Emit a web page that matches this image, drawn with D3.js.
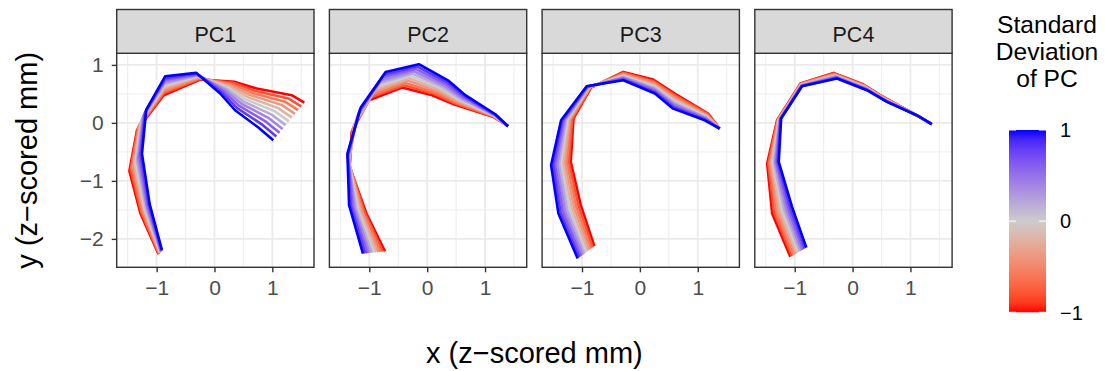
<!DOCTYPE html>
<html>
<head>
<meta charset="utf-8">
<script src="https://cdn.jsdelivr.net/npm/d3@7"></script>
<style>
body { margin: 0; background: #fff; }
text { font-family: "Liberation Sans", Arial, Helvetica, sans-serif; }
</style>
</head>
<body>
<div id="chart"></div>
<script>
var panels = ["PC1", "PC2", "PC3", "PC4"];
var sdLevels = [-1, -0.8, -0.6, -0.4, -0.2, 0, 0.2, 0.4, 0.6, 0.8, 1];
var xTicks = [-1, 0, 1], yTicks = [-2, -1, 0, 1];
var xMinor = [-1.5, -0.5, 0.5, 1.5], yMinor = [-1.5, -0.5, 0.5];
var legendTicks = [-1, 0, 1];

// shape at sd = 0 (z-scored mm), one per panel
var pc1MeanX = [-0.937, -1.20, -1.362, -1.259, -0.865, -0.282, 0.227, 0.543, 1.046, 1.285];
var pc1MeanY = [-2.23, -1.48, -0.679, 0.052, 0.641, 0.805, 0.607, 0.405, 0.199, 0.026];
var pc2MeanX = [-0.92, -1.20, -1.359, -1.227, -0.862, -0.288, 0.23, 0.56, 1.163, 1.397];
var pc2MeanY = [-2.233, -1.49, -0.644, 0.055, 0.635, 0.81, 0.60, 0.40, 0.126, -0.057];
var pc3MeanX = [-0.931, -1.215, -1.365, -1.255, -0.882, -0.287, 0.245, 0.589, 1.15, 1.379];
var pc3MeanY = [-2.233, -1.49, -0.70, 0.06, 0.62, 0.807, 0.627, 0.376, 0.103, -0.098];
var pc4MeanX = [-0.937, -1.218, -1.376, -1.27, -0.888, -0.299, 0.218, 0.535, 1.123, 1.368];
var pc4MeanY = [-2.23, -1.505, -0.686, 0.06, 0.655, 0.813, 0.612, 0.42, 0.124, -0.023];

// shift of each landmark for +1 standard deviation of the PC
var pc1LoadX = [0.029, 0.08, 0.109, 0.08, 0.014, -0.035, -0.129, -0.187, -0.287, -0.268];
var pc1LoadY = [0.035, 0.08, 0.15, 0.178, 0.164, 0.058, -0.10, -0.187, -0.279, -0.325];
var pc2LoadX = [-0.19, -0.15, -0.02, 0.078, 0.144, 0.144, 0.144, 0.10, 0.015, 0];
var pc2LoadY = [-0.02, 0.072, 0.115, 0.21, 0.244, 0.201, 0.124, 0.078, 0.023, 0];
var pc3LoadX = [-0.144, -0.193, -0.17, -0.107, -0.038, 0, 0.015, -0.014, -0.029, 0];
var pc3LoadY = [-0.107, -0.072, -0.029, -0.015, 0.012, -0.072, -0.12, -0.13, -0.058, 0];
var pc4LoadX = [0.138, 0.172, 0.10, 0.035, 0.014, 0.029, 0.029, 0.058, -0.015, 0];
var pc4LoadY = [0.08, 0.058, 0.014, 0.015, -0.023, -0.049, -0.049, -0.058, 0.008, 0];

var meanX = [pc1MeanX, pc2MeanX, pc3MeanX, pc4MeanX];
var meanY = [pc1MeanY, pc2MeanY, pc3MeanY, pc4MeanY];
var loadX = [pc1LoadX, pc2LoadX, pc3LoadX, pc4LoadX];
var loadY = [pc1LoadY, pc2LoadY, pc3LoadY, pc4LoadY];

var W = 1105, H = 371;
var panelLeft = 116.7, panelTop = 53.3, stripTop = 9.5;
var pw = 197.3, ph = 214, step = 212.7;

var svg = d3.select("#chart").append("svg")
    .attr("width", W).attr("height", H);

var x = d3.scaleLinear().domain([-1.69, 1.72]).range([0, pw]);
var y = d3.scaleLinear().domain([-2.49, 1.2]).range([ph, 0]);
var fmt = d3.format("d");

var color = d3.scaleLinear()
    .domain([-1, 0, 1])
    .range(["#FF0000", "#CCCCCC", "#0000FF"])
    .interpolate(d3.interpolateLab);

var line = d3.line()
    .x(function (d) { return x(d[0]); })
    .y(function (d) { return y(d[1]); });

panels.forEach(function (name, p) {
    var g = svg.append("g")
        .attr("transform", "translate(" + (panelLeft + p * step) + "," + panelTop + ")");

    // grid
    g.selectAll(".minx").data(xMinor).enter().append("line")
        .attr("x1", x).attr("x2", x).attr("y1", 0).attr("y2", ph)
        .attr("stroke", "#EBEBEB").attr("stroke-width", 0.9);
    g.selectAll(".miny").data(yMinor).enter().append("line")
        .attr("y1", y).attr("y2", y).attr("x1", 0).attr("x2", pw)
        .attr("stroke", "#EBEBEB").attr("stroke-width", 0.9);
    g.selectAll(".majx").data(xTicks).enter().append("line")
        .attr("x1", x).attr("x2", x).attr("y1", 0).attr("y2", ph)
        .attr("stroke", "#EBEBEB").attr("stroke-width", 1.8);
    g.selectAll(".majy").data(yTicks).enter().append("line")
        .attr("y1", y).attr("y2", y).attr("x1", 0).attr("x2", pw)
        .attr("stroke", "#EBEBEB").attr("stroke-width", 1.8);

    // shapes, one per sd level, red first so blue sits on top
    var curves = sdLevels.map(function (s) {
        return {
            sd: s,
            pts: meanX[p].map(function (mx, i) {
                return [mx + s * loadX[p][i], meanY[p][i] + s * loadY[p][i]];
            })
        };
    });
    g.selectAll(".curve").data(curves).enter().append("path")
        .attr("d", function (d) { return line(d.pts); })
        .attr("fill", "none")
        .attr("stroke", function (d) { return color(d.sd); })
        .attr("stroke-width", 2.6)
        .attr("stroke-linejoin", "round");

    // border
    g.append("rect")
        .attr("width", pw).attr("height", ph)
        .attr("fill", "none").attr("stroke", "#333333").attr("stroke-width", 1.4);

    // strip
    g.append("rect")
        .attr("y", stripTop - panelTop).attr("width", pw).attr("height", panelTop - stripTop)
        .attr("fill", "#D9D9D9").attr("stroke", "#333333").attr("stroke-width", 1.4);
    g.append("text")
        .attr("x", pw / 2).attr("y", 41.5 - panelTop)
        .attr("text-anchor", "middle")
        .attr("font-size", 21.5).attr("fill", "#1A1A1A")
        .text(name);

    // x axis
    var xa = g.append("g")
        .attr("transform", "translate(0," + ph + ")")
        .call(d3.axisBottom(x).tickValues(xTicks).tickFormat(fmt).tickSize(5).tickPadding(8));
    xa.select(".domain").remove();
    xa.selectAll("line").attr("stroke", "#333333").attr("stroke-width", 1.4);
    xa.selectAll("text").attr("font-size", 21).attr("fill", "#4D4D4D")
        .attr("font-family", "Liberation Sans, Arial, sans-serif");

    if (p === 0) {
        var ya = g.append("g")
            .call(d3.axisLeft(y).tickValues(yTicks).tickFormat(fmt).tickSize(5).tickPadding(8));
        ya.select(".domain").remove();
        ya.selectAll("line").attr("stroke", "#333333").attr("stroke-width", 1.4);
        ya.selectAll("text").attr("font-size", 21).attr("fill", "#4D4D4D")
            .attr("font-family", "Liberation Sans, Arial, sans-serif");
    }
});

// axis titles
svg.append("text")
    .attr("x", panelLeft + (3 * step + pw) / 2).attr("y", 363)
    .attr("text-anchor", "middle").attr("font-size", 29).attr("fill", "#000")
    .text("x (z\u2212scored mm)");
svg.append("text")
    .attr("transform", "translate(37," + (panelTop + ph / 2) + ") rotate(-90)")
    .attr("text-anchor", "middle").attr("font-size", 29).attr("fill", "#000")
    .text("y (z\u2212scored mm)");

// legend
var lg = svg.append("g");
["Standard", "Deviation", "of PC"].forEach(function (t, i) {
    lg.append("text")
        .attr("x", 1047).attr("y", 32.5 + i * 27)
        .attr("text-anchor", "middle").attr("font-size", 24.6).attr("fill", "#000")
        .text(t);
});

var barX = 1009, barW = 37;
var ly = d3.scaleLinear().domain([-1, 1]).range([312.3, 130]);
var grad = svg.append("defs").append("linearGradient")
    .attr("id", "sdgrad").attr("x1", 0).attr("x2", 0).attr("y1", 1).attr("y2", 0);
d3.range(0, 21).forEach(function (i) {
    var v = -1 + i * 0.1;
    grad.append("stop").attr("offset", (i / 20)).attr("stop-color", color(v));
});
lg.append("rect")
    .attr("x", barX).attr("y", ly(1)).attr("width", barW).attr("height", ly(-1) - ly(1))
    .attr("fill", "url(#sdgrad)");
legendTicks.forEach(function (v) {
    lg.append("line").attr("x1", barX).attr("x2", barX + 7).attr("y1", ly(v)).attr("y2", ly(v))
        .attr("stroke", "#fff").attr("stroke-width", 1);
    lg.append("line").attr("x1", barX + barW - 7).attr("x2", barX + barW).attr("y1", ly(v)).attr("y2", ly(v))
        .attr("stroke", "#fff").attr("stroke-width", 1);
    lg.append("text")
        .attr("x", 1060).attr("y", ly(v)).attr("dy", "0.36em")
        .attr("font-size", 20).attr("fill", "#000")
        .text(fmt(v));
});
</script>
</body>
</html>
